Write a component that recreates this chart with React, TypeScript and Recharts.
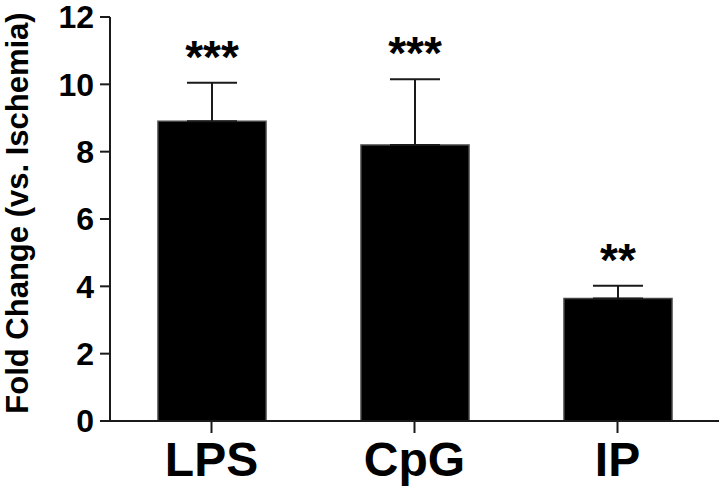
import { Bar, BarChart, ErrorBar, LabelList, XAxis, YAxis } from "recharts";

const CATEGORIES = ["LPS", "CpG", "IP"];
const MEANS = [8.9, 8.2, 3.64];
const SEM = [1.15, 1.95, 0.38];
const STARS = ["***", "***", "**"];
const Y_TICKS = [0, 2, 4, 6, 8, 10, 12];

const FONT = "'Liberation Sans', Arial, sans-serif";
const INK = "#1a1a1a";

const data = CATEGORIES.map((name, i) => ({
  name,
  mean: MEANS[i],
  err: [0, SEM[i]],
  stars: STARS[i],
}));

// significance marks sit just above each error cap; px-per-unit comes from the bar itself
function renderStars(props: any) {
  const { index, value } = props;
  const box = props.viewBox ?? props;
  const x = Number(props.x ?? box.x);
  const y = Number(props.y ?? box.y);
  const width = Number(props.width ?? box.width);
  const height = Number(props.height ?? box.height);
  const pxPerUnit = height / MEANS[index];
  const capY = y - SEM[index] * pxPerUnit;
  return (
    <text
      x={x + width / 2}
      y={capY - 10}
      textAnchor="middle"
      fontFamily={FONT}
      fontWeight="bold"
      fontSize={46}
      fill="#000"
    >
      {value}
    </text>
  );
}

function renderYLabel(props: any) {
  const vb = props.viewBox ?? { x: 0, y: 0, height: 0 };
  const cx = vb.x + 17;
  const cy = vb.y + vb.height / 2 - 6;
  return (
    <text
      x={cx}
      y={cy}
      transform={`rotate(-90, ${cx}, ${cy})`}
      textAnchor="middle"
      dominantBaseline="central"
      fontFamily={FONT}
      fontWeight="bold"
      fontSize={31}
      fill="#000"
    >
      Fold Change (vs. Ischemia)
    </text>
  );
}

export default function App() {
  return (
    <div style={{ position: "absolute", left: 0, top: 0, background: "#fff" }}>
      <BarChart width={720} height={490} data={data} margin={{ top: 17, right: 1, left: 0, bottom: 0 }}>
        <XAxis
          dataKey="name"
          height={69}
          axisLine={{ stroke: INK, strokeWidth: 2 }}
          tickLine={{ stroke: INK, strokeWidth: 2 }}
          tickSize={12}
          tickMargin={9}
          tick={{ fontFamily: FONT, fontWeight: "bold", fontSize: 48, fill: "#000" }}
        />
        <YAxis
          width={110}
          domain={[0, 12]}
          ticks={Y_TICKS}
          interval={0}
          axisLine={{ stroke: INK, strokeWidth: 2 }}
          tickLine={{ stroke: INK, strokeWidth: 2 }}
          tickSize={10}
          tickMargin={6}
          tick={{ fontFamily: FONT, fontWeight: "bold", fontSize: 32, fill: "#000" }}
          label={{ content: renderYLabel }}
        />
        <Bar dataKey="mean" fill="#000" stroke="#444" strokeWidth={1.5} barSize={108} isAnimationActive={false}>
          <ErrorBar dataKey="err" direction="y" width={25} stroke={INK} strokeWidth={2} />
          <LabelList dataKey="stars" content={renderStars} />
        </Bar>
      </BarChart>
    </div>
  );
}
